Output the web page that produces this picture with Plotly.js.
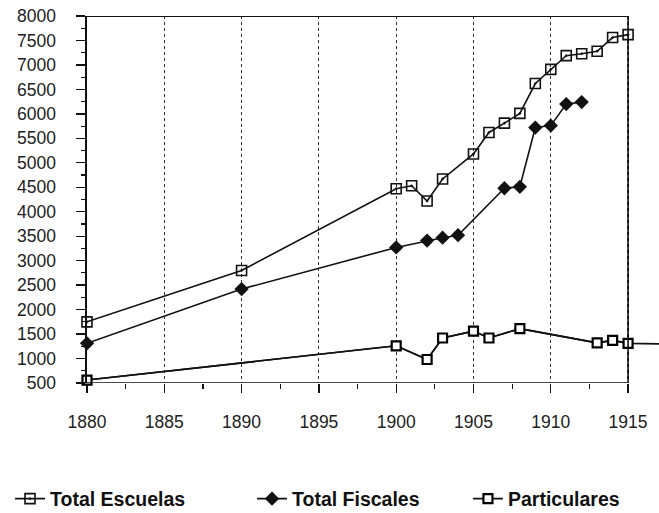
<!DOCTYPE html>
<html><head><meta charset="utf-8">
<script src="https://cdn.plot.ly/plotly-3.0.1.min.js"></script>
<style>html,body{margin:0;padding:0;background:#fff;overflow:hidden;width:659px;height:513px}#chart{width:659px;height:530px}</style>
</head><body><div id="chart"></div>
<script>
const yearsTotal = [1880,1890,1900,1901,1902,1903,1905,1906,1907,1908,1909,1910,1911,1912,1913,1914,1915];
const totalEscuelas = [1750,2800,4470,4530,4220,4670,5180,5620,5810,6010,6620,6910,7190,7230,7280,7560,7620];
const yearsFiscales = [1880,1890,1900,1902,1903,1904,1907,1908,1909,1910,1911,1912];
const totalFiscales = [1310,2420,3270,3410,3470,3520,4480,4510,5720,5760,6200,6240];
const yearsPart = [1880,1900,1902,1903,1905,1906,1908,1913,1914,1915,1917];
const particulares = [560,1260,980,1420,1560,1420,1610,1320,1370,1310,1300];
const seriesNames = ['Total Escuelas','Total Fiscales','Particulares'];
const xTicks = [1880,1885,1890,1895,1900,1905,1910,1915];

const ink = '#111';
const sans = "'Liberation Sans', Arial, sans-serif";
const nPart = yearsPart.length - 1; // last point is where the line leaves the frame (no marker)
const traces = [
  {x: yearsTotal, y: totalEscuelas, name: seriesNames[0], legend: 'legend', mode: 'lines+markers', cliponaxis: false,
   line: {color: ink, width: 1.6},
   marker: {symbol: 'square-open-dot', size: 10, color: ink, line: {width: 1.6, color: ink}}},
  {x: yearsFiscales, y: totalFiscales, name: seriesNames[1], legend: 'legend2', mode: 'lines+markers', cliponaxis: false,
   line: {color: ink, width: 1.6},
   marker: {symbol: 'diamond', size: 11, color: ink, line: {width: 0, color: ink}}},
  {x: yearsPart, y: particulares, name: seriesNames[2], mode: 'lines', showlegend: false, cliponaxis: false,
   line: {color: ink, width: 1.6}, hoverinfo: 'skip'},
  {x: yearsPart.slice(0, nPart), y: particulares.slice(0, nPart), name: seriesNames[2], legend: 'legend3',
   mode: 'lines+markers', cliponaxis: false,
   line: {color: ink, width: 1.6},
   marker: {symbol: 'square', size: 9, color: '#fff', line: {width: 2.2, color: '#000'}}}
];

const legendFont = {family: sans, size: 19.5, color: '#111', weight: 'bold'};
const legBase = {orientation: 'h', xanchor: 'left', y: -0.316, yanchor: 'middle', font: legendFont, bgcolor: 'rgba(0,0,0,0)'};

const layout = {
  width: 659, height: 530,
  margin: {l: 87, r: 0, t: 16, b: 147},
  paper_bgcolor: '#fff', plot_bgcolor: '#fff',
  font: {family: sans, size: 14, color: '#222'},
  showlegend: true,
  legend: Object.assign({}, legBase, {x: -0.1346}),
  legend2: Object.assign({}, legBase, {x: 0.2885}),
  legend3: Object.assign({}, legBase, {x: 0.666}),
  xaxis: {range: [1880, 1917], tickvals: xTicks, ticktext: xTicks.map(String),
          showline: false, zeroline: false, ticks: 'outside', ticklen: 9, tickwidth: 1.3, tickcolor: ink,
          ticklabelstandoff: 14,
          showgrid: true, gridcolor: '#333', griddash: 'dot', gridwidth: 1.2,
          minor: {dtick: 2.5, tick0: 1880, ticks: 'outside', ticklen: 5, tickwidth: 1.2, tickcolor: ink, showgrid: false},
          tickfont: {family: sans, size: 17.5, color: '#222'}, fixedrange: true},
  yaxis: {range: [500, 8000], dtick: 500, tick0: 500, showline: true, linecolor: ink, linewidth: 1.6,
          zeroline: false, showgrid: false, ticks: 'outside', ticklen: 9, tickwidth: 1.3, tickcolor: ink,
          ticklabelstandoff: 17,
          minor: {dtick: 250, ticks: 'outside', ticklen: 4, tickwidth: 1.2, tickcolor: ink},
          tickfont: {family: sans, size: 17.5, color: '#222'}, fixedrange: true},
  shapes: [
    {type: 'line', xref: 'x', yref: 'y', x0: 1880, x1: 1915, y0: 500, y1: 500, line: {color: ink, width: 1.6}},
    {type: 'line', xref: 'x', yref: 'y', x0: 1915, x1: 1915, y0: 500, y1: 8000, line: {color: ink, width: 1.6}},
    {type: 'line', xref: 'x', yref: 'y', x0: 1879.35, x1: 1915, y0: 8000, y1: 8000, line: {color: ink, width: 2.2}}
  ]
};
Plotly.newPlot('chart', traces, layout, {displayModeBar: false, staticPlot: true});
</script></body></html>
